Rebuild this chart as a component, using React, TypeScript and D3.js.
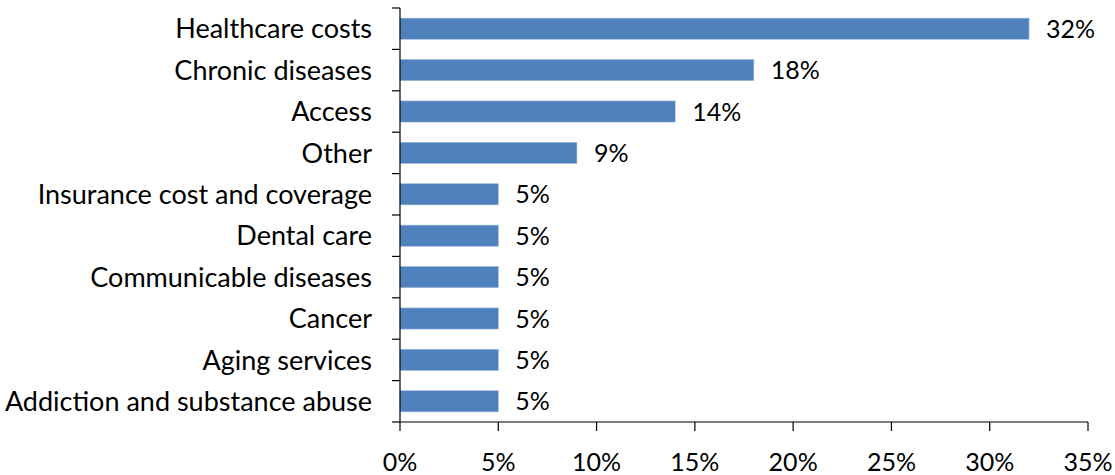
import React from "react";
import * as d3 from "d3";

const categories = [
  "Healthcare costs",
  "Chronic diseases",
  "Access",
  "Other",
  "Insurance cost and coverage",
  "Dental care",
  "Communicable diseases",
  "Cancer",
  "Aging services",
  "Addiction and substance abuse",
];
const values = [32, 18, 14, 9, 5, 5, 5, 5, 5, 5];
const xTicks = [0, 5, 10, 15, 20, 25, 30, 35];

const W = 1115;
const H = 475;
const left = 400;
const right = 1088;
const top = 8;
const bottom = 422;
const FONT = "Lato, 'Open Sans', sans-serif";
const FS_CAT = 27;
const FS_NUM = 25;

export default function App() {
  const x = d3.scaleLinear().domain([0, 35]).range([left, right]);
  const y = d3.scaleBand().domain(categories).range([top, bottom]).paddingInner(0.49).paddingOuter(0.245);
  const band = (bottom - top) / categories.length;
  return (
    <svg width={W} height={H} style={{ position: "absolute", left: 0, top: 0 }}>
      <rect width={W} height={H} fill="#fff" />
      {categories.map((c, i) => (
        <g key={c}>
          <rect
            x={x(0)}
            y={y(c)}
            width={x(values[i]) - x(0)}
            height={y.bandwidth()}
            fill="#4F81BD"
            stroke="#9BB7DB"
            strokeWidth={0.6}
          />
          <text
            x={x(values[i]) + 17}
            y={(y(c) as number) + y.bandwidth() / 2}
            dy="0.36em"
            fontFamily={FONT}
            fontSize={FS_NUM}
            fill="#000"
          >
            {values[i]}%
          </text>
          <text
            x={372}
            y={(y(c) as number) + y.bandwidth() / 2}
            dy="0.36em"
            textAnchor="end"
            fontFamily={FONT}
            fontSize={FS_CAT}
            fill="#000"
          >
            {c}
          </text>
        </g>
      ))}
      {d3.range(categories.length + 1).map((i) => (
        <line key={i} x1={392} x2={left} y1={top + i * band} y2={top + i * band} stroke="#000" strokeWidth={1.2} />
      ))}
      <line x1={left} x2={left} y1={top} y2={bottom} stroke="#000" strokeWidth={1.2} />
      <line x1={left} x2={right} y1={bottom} y2={bottom} stroke="#000" strokeWidth={1.2} />
      {xTicks.map((t) => (
        <g key={t}>
          <line x1={x(t)} x2={x(t)} y1={bottom} y2={bottom + 9} stroke="#000" strokeWidth={1.2} />
          <text x={x(t)} y={471} textAnchor="middle" fontFamily={FONT} fontSize={FS_NUM} fill="#000">
            {t}%
          </text>
        </g>
      ))}
    </svg>
  );
}
